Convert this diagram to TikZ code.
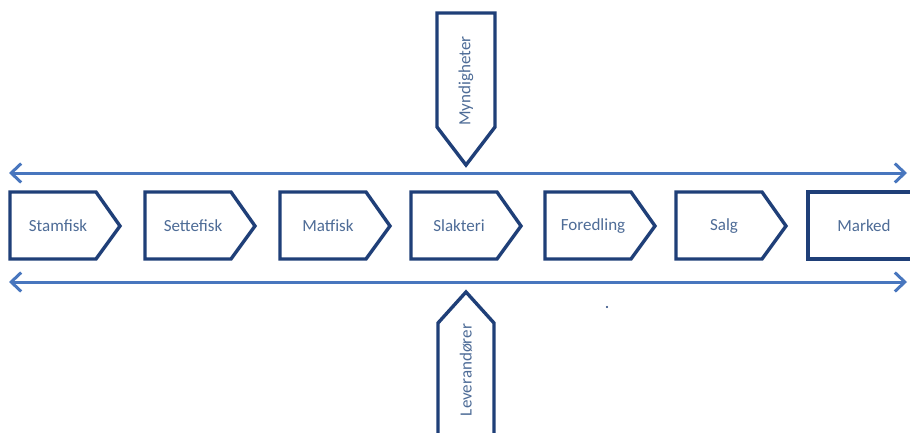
\documentclass[tikz,border=0pt]{standalone}
\usepackage{fontspec}
\setmainfont{Carlito}
\usetikzlibrary{arrows.meta}
\definecolor{boxline}{HTML}{1F3F78}
\definecolor{flowline}{HTML}{4876BE}
\definecolor{labeltext}{HTML}{4E6C97}
\tikzset{
  x=1pt, y=1pt,
  stagebox/.style={draw=boxline, line width=3.4pt, line join=miter, fill=white},
  flowarrow/.style={draw=flowline, line width=3pt,
    {Straight Barb[length=10pt,width=19pt]}-{Straight Barb[length=10pt,width=19pt]}},
  stagelabel/.style={text=labeltext, font=\fontsize{17}{19}\selectfont},
}
\begin{document}
\begin{tikzpicture}
\useasboundingbox (0,0) rectangle (910,432);
\fill[white] (0,0) rectangle (910,432);

% horizontal two-way flows
\coordinate (topL) at (9,259);
\coordinate (topR) at (907,259);
\coordinate (botL) at (9,150);
\coordinate (botR) at (907,150);
\draw[flowarrow] (topL) -- (topR);
\draw[flowarrow] (botL) -- (botR);

% value chain stages (chevrons)
\foreach \x/\name/\txt in {10/stam/Stamfisk, 145/sette/Settefisk, 280/mat/Matfisk,
                           411/slakt/Slakteri, 545/fored/Foredling, 676/salg/Salg} {
  \draw[stagebox] (\x,240) -- (\x+86,240) -- (\x+110,206) -- (\x+86,173) -- (\x,173) -- cycle;
  \node[stagelabel] (\name) at (\x+48,206) {\txt};
}
% final stage, open to the right edge
\draw[stagebox] (914,240) -- (808,240) -- (808,173) -- (914,173);
\node[stagelabel] (marked) at (864,206) {Marked};

% authorities pointing down
\draw[stagebox] (437,419) -- (495,419) -- (495,305) -- (466,267) -- (437,305) -- cycle;
\node[stagelabel, rotate=90] (mynd) at (466,351) {Myndigheter};

% suppliers pointing up
\draw[stagebox] (438,-4) -- (438,109) -- (466,140) -- (494,109) -- (494,-4);
\node[stagelabel, rotate=90] (lev) at (466,62) {Leverandører};

% small dot
\fill[boxline] (607,125) circle (1.2);
\end{tikzpicture}
\end{document}
